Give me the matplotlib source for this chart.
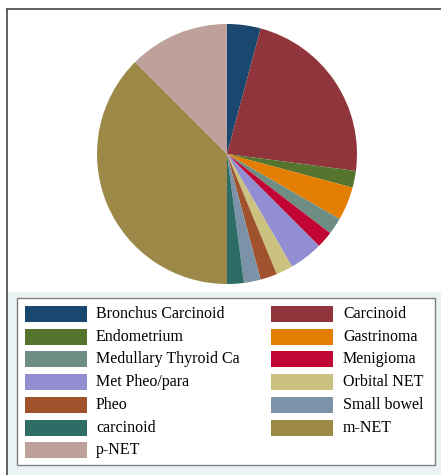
import matplotlib
matplotlib.use('Agg')
import matplotlib.pyplot as plt
from matplotlib.patches import Rectangle

# tumour types, counts (48 in total)
labels = ['Bronchus Carcinoid', 'Carcinoid', 'Endometrium', 'Gastrinoma',
          'Medullary Thyroid Ca', 'Menigioma', 'Met Pheo/para', 'Orbital NET',
          'Pheo', 'Small bowel', 'carcinoid', 'm-NET', 'p-NET']
counts = [2, 11, 1, 2, 1, 1, 2, 1, 1, 1, 1, 18, 6]
# stata s2color order
colors = ['#1a476f', '#90353b', '#55752f', '#e37e00', '#6e8e84', '#c10534',
          '#938dd2', '#cac27e', '#a0522d', '#7b92a8', '#2d6d66', '#9c8847',
          '#bfa19c']

W, H = 441, 475
fig = plt.figure(figsize=(W / 100, H / 100), dpi=100)
fig.patch.set_facecolor('white')

def px(x, y, w, h):
    # pixel box (top-left origin) -> figure fraction
    return (x / W, 1 - (y + h) / H, w / W, h / H)

# graph region: light blue bands, white plot region
fig.add_artist(Rectangle(px(7, 9, 440, 470)[:2], 434 / W, 466 / H,
                         transform=fig.transFigure, facecolor='#eaf2f3',
                         edgecolor='none', zorder=0))
fig.add_artist(Rectangle(px(7, 12, 434, 280)[:2], 434 / W, 280 / H,
                         transform=fig.transFigure, facecolor='white',
                         edgecolor='none', zorder=0))
# outer frame (left and top edges visible)
fig.add_artist(plt.Line2D([7 / W, 7 / W], [0, 1 - 9 / H], transform=fig.transFigure,
                          color='#555555', lw=1.3))
fig.add_artist(plt.Line2D([7 / W, 1], [1 - 9 / H, 1 - 9 / H], transform=fig.transFigure,
                          color='#555555', lw=1.3))

# pie
ax = fig.add_axes(px(97, 24, 260, 260))
ax.pie(counts, colors=colors, startangle=90, counterclock=False, radius=1,
       wedgeprops=dict(linewidth=0))
ax.set_xlim(-1, 1)
ax.set_ylim(-1, 1)
ax.set_aspect('equal')
ax.axis('off')

# legend box
fig.add_artist(Rectangle(px(17, 298, 418, 167)[:2], 418 / W, 167 / H,
                         transform=fig.transFigure, facecolor='white',
                         edgecolor='#808080', lw=1.0, zorder=1))
row0, drow = 314, 22.7
for i, (lab, c) in enumerate(zip(labels, colors)):
    r, col = i // 2, i % 2
    sx = 25 if col == 0 else 271
    tx = 96 if col == 0 else 343
    cy = row0 + r * drow
    fig.add_artist(Rectangle(px(sx, cy - 8, 62, 16)[:2], 62 / W, 16 / H,
                             transform=fig.transFigure, facecolor=c,
                             edgecolor='none', zorder=2))
    fig.text(tx / W, 1 - cy / H, lab, ha='left', va='center',
             family='Liberation Serif', fontsize=11.5, color='black', zorder=3)

fig.savefig('out.png', dpi=100)
